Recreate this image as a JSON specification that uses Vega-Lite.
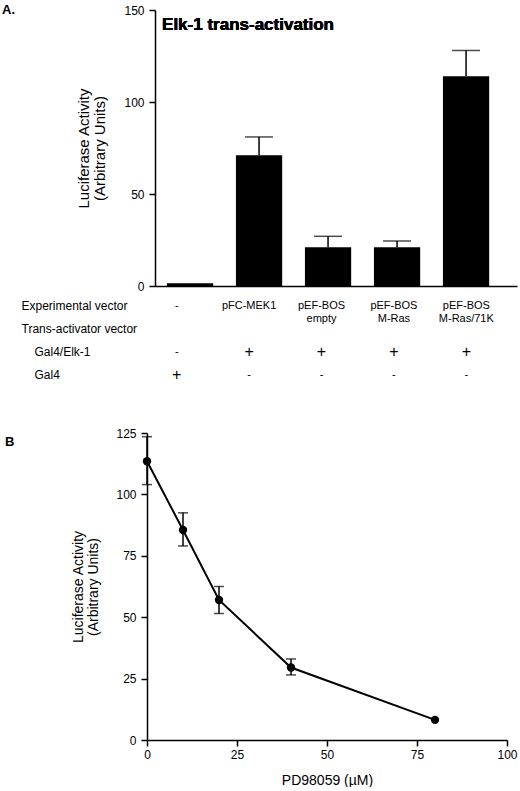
{
  "$schema": "https://vega.github.io/schema/vega-lite/v6.json",
  "padding": {"left": 2, "top": 4, "right": 0, "bottom": 0},
  "spacing": 41,
  "datasets": {
    "bars": [
      {"vector": "-", "value": 1.5, "upper": null},
      {"vector": "pFC-MEK1", "value": 71, "upper": 81},
      {"vector": "pEF-BOS empty", "value": 21, "upper": 27},
      {"vector": "pEF-BOS M-Ras", "value": 21, "upper": 24.5},
      {"vector": "pEF-BOS M-Ras/71K", "value": 114, "upper": 128}
    ],
    "table": [
      {"vector": "-", "row": "Experimental vector", "text": "-"},
      {"vector": "pFC-MEK1", "row": "Experimental vector", "text": "pFC-MEK1"},
      {"vector": "pEF-BOS empty", "row": "Experimental vector", "text": "pEF-BOS\nempty"},
      {"vector": "pEF-BOS M-Ras", "row": "Experimental vector", "text": "pEF-BOS\nM-Ras"},
      {"vector": "pEF-BOS M-Ras/71K", "row": "Experimental vector", "text": "pEF-BOS\nM-Ras/71K"},
      {"vector": "-", "row": "Gal4/Elk-1", "text": "-"},
      {"vector": "pFC-MEK1", "row": "Gal4/Elk-1", "text": "+"},
      {"vector": "pEF-BOS empty", "row": "Gal4/Elk-1", "text": "+"},
      {"vector": "pEF-BOS M-Ras", "row": "Gal4/Elk-1", "text": "+"},
      {"vector": "pEF-BOS M-Ras/71K", "row": "Gal4/Elk-1", "text": "+"},
      {"vector": "-", "row": "Gal4", "text": "+"},
      {"vector": "pFC-MEK1", "row": "Gal4", "text": "-"},
      {"vector": "pEF-BOS empty", "row": "Gal4", "text": "-"},
      {"vector": "pEF-BOS M-Ras", "row": "Gal4", "text": "-"},
      {"vector": "pEF-BOS M-Ras/71K", "row": "Gal4", "text": "-"}
    ],
    "dose": [
      {"dose": 0, "value": 113.5, "lo": 104, "hi": 123.5},
      {"dose": 10, "value": 85.5, "lo": 79, "hi": 92.5},
      {"dose": 20, "value": 57, "lo": 51.5, "hi": 62.5},
      {"dose": 40, "value": 29.5, "lo": 26.5, "hi": 33},
      {"dose": 80, "value": 8.2, "lo": null, "hi": null}
    ]
  },
  "vconcat": [
    {
      "spacing": 2,
      "vconcat": [
        {
          "title": {"text": "A.", "anchor": "start", "frame": "group", "dx": -145, "dy": 13, "fontSize": 13, "fontWeight": "bold", "offset": 0},
          "width": 370,
          "height": 276,
          "data": {"name": "bars"},
          "encoding": {
            "x": {
              "field": "vector", "type": "nominal", "sort": null,
              "scale": {"range": [8, 370], "paddingInner": 0.33, "paddingOuter": 0.288, "align": 0.3},
              "axis": {"labels": false, "ticks": false, "title": null}
            }
          },
          "layer": [
            {
              "mark": {"type": "bar", "color": "black"},
              "encoding": {
                "y": {
                  "field": "value", "type": "quantitative",
                  "scale": {"domain": [0, 150], "nice": false},
                  "axis": {"values": [0, 50, 100, 150], "offset": -8, "tickSize": 6, "labelPadding": 5,
                           "title": ["Luciferase Activity", "(Arbitrary Units)"], "titleFontSize": 15, "titlePadding": 16, "titleLineHeight": 16}
                }
              }
            },
            {
              "transform": [{"filter": "datum.upper != null"}],
              "mark": {"type": "rule", "color": "black", "strokeWidth": 1.5},
              "encoding": {"y": {"field": "value", "type": "quantitative"}, "y2": {"field": "upper"}}
            },
            {
              "transform": [{"filter": "datum.upper != null"}],
              "mark": {"type": "tick", "orient": "horizontal", "color": "black", "size": 28, "thickness": 1.5},
              "encoding": {"y": {"field": "upper", "type": "quantitative"}}
            },
            {
              "mark": {"type": "text", "text": "Elk-1 trans-activation", "align": "left", "baseline": "middle", "dx": -28, "fontSize": 17, "fontWeight": "bold", "color": "black"},
              "encoding": {"x": {"datum": "-"}, "y": {"datum": 142}}
            }
          ]
        },
        {
          "width": 370,
          "height": 92,
          "data": {"name": "table"},
          "mark": {"type": "text", "color": "black", "lineBreak": "\n", "lineHeight": 13, "baseline": "middle"},
          "encoding": {
            "x": {
              "field": "vector", "type": "nominal",
              "scale": {"domain": ["-", "pFC-MEK1", "pEF-BOS empty", "pEF-BOS M-Ras", "pEF-BOS M-Ras/71K"], "range": [8, 370], "paddingInner": 0.33, "paddingOuter": 0.288, "align": 0.3},
              "axis": null
            },
            "y": {
              "field": "row", "type": "nominal",
              "scale": {"type": "point", "domain": ["Experimental vector", "Trans-activator vector", "Gal4/Elk-1", "Gal4"], "padding": 0.5},
              "axis": {
                "title": null, "domain": false, "ticks": false, "tickSize": 0,
                "labelAlign": "left", "labelBaseline": "middle", "labelFontSize": 12, "labelLimit": 200,
                "labelPadding": {"condition": {"test": "datum.value == 'Gal4/Elk-1' || datum.value == 'Gal4'", "value": 113}, "value": 126}
              }
            },
            "text": {"field": "text"},
            "size": {"condition": {"test": "datum.text == '+'", "value": 16}, "value": 11},
            "fontWeight": {"condition": {"test": "datum.text == '+' || datum.text == '-'", "value": "bold"}, "value": "normal"}
          }
        }
      ]
    },
    {
      "title": {"text": "B", "anchor": "start", "frame": "group", "dx": -142, "dy": 22, "fontSize": 13, "fontWeight": "bold", "offset": 0},
      "width": 360,
      "height": 307,
      "data": {"name": "dose"},
      "encoding": {
        "x": {
          "field": "dose", "type": "quantitative",
          "scale": {"domain": [0, 100], "nice": false},
          "axis": {"values": [0, 25, 50, 75, 100], "labelFlush": false, "tickSize": 6, "labelPadding": 3, "title": "PD98059 (µM)", "titleFontSize": 14, "titlePadding": 13}
        },
        "y": {
          "field": "value", "type": "quantitative",
          "scale": {"domain": [0, 125], "nice": false},
          "axis": {"values": [0, 25, 50, 75, 100, 125], "tickSize": 6, "labelPadding": 5,
                   "title": ["Luciferase Activity", "(Arbitrary Units)"], "titleFontSize": 14, "titlePadding": 15, "titleLineHeight": 15}
        }
      },
      "layer": [
        {"mark": {"type": "line", "color": "black", "strokeWidth": 2}},
        {"mark": {"type": "point", "filled": true, "color": "black", "size": 70, "opacity": 1}},
        {
          "transform": [{"filter": "datum.hi != null"}],
          "mark": {"type": "rule", "color": "black", "strokeWidth": 1.5},
          "encoding": {"y": {"field": "lo", "type": "quantitative"}, "y2": {"field": "hi"}}
        },
        {
          "transform": [{"filter": "datum.hi != null"}],
          "mark": {"type": "tick", "orient": "horizontal", "color": "black", "size": 10, "thickness": 1.5},
          "encoding": {"y": {"field": "hi", "type": "quantitative"}}
        },
        {
          "transform": [{"filter": "datum.hi != null"}],
          "mark": {"type": "tick", "orient": "horizontal", "color": "black", "size": 10, "thickness": 1.5},
          "encoding": {"y": {"field": "lo", "type": "quantitative"}}
        }
      ]
    }
  ],
  "config": {
    "font": "Liberation Sans",
    "view": {"stroke": null},
    "axis": {
      "grid": false,
      "domainColor": "black", "domainWidth": 1.5,
      "tickColor": "black", "tickWidth": 1.5,
      "labelColor": "black", "labelFontSize": 12,
      "titleColor": "black", "titleFontWeight": "normal"
    },
    "title": {"color": "black"}
  }
}
